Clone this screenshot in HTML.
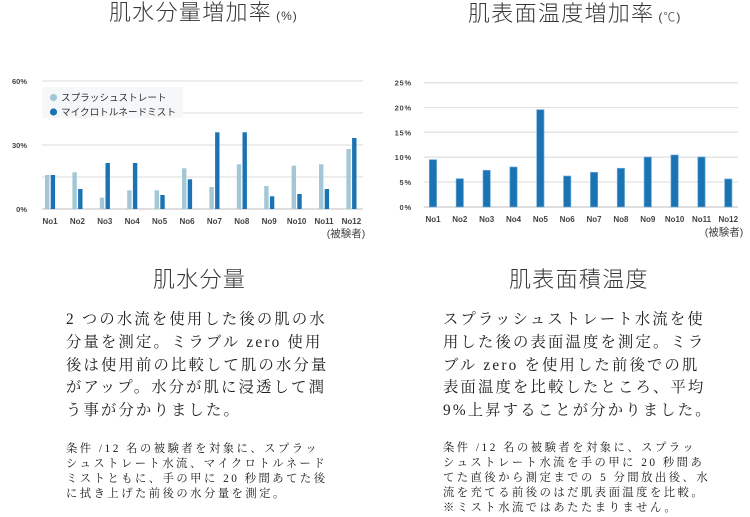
<!DOCTYPE html>
<html lang="ja">
<head>
<meta charset="utf-8">
<style>
  html,body{margin:0;padding:0;background:#fff;}
  body{width:750px;height:517px;position:relative;overflow:hidden;}
  .t{position:absolute;white-space:nowrap;color:#3a3a3a;}
  .title{font-family:"Liberation Sans","Noto Sans CJK JP",sans-serif;font-weight:300;font-size:22px;line-height:26px;letter-spacing:1.3px;color:#3a3636;}
  .title small{font-size:12px;letter-spacing:1px;margin-left:4px;}
  .head{font-family:"Liberation Sans","Noto Sans CJK JP",sans-serif;font-weight:300;font-size:22px;line-height:26px;letter-spacing:1.3px;color:#3a3636;}
  .body{font-family:"Liberation Serif","Noto Serif CJK JP",serif;font-size:15.3px;line-height:22.8px;letter-spacing:2.2px;color:#222;}
  .small{font-family:"Liberation Serif","Noto Serif CJK JP",serif;font-size:11.3px;line-height:14.9px;letter-spacing:2.5px;color:#1a1a1a;}
  svg{position:absolute;left:0;top:0;}
</style>
</head>
<body>
<svg width="750" height="517" viewBox="0 0 750 517" xmlns="http://www.w3.org/2000/svg">
  <!-- LEFT CHART -->
  <g stroke="#e2e2e2" stroke-width="1.3">
    <line x1="42" y1="81" x2="363" y2="81"/>
    <line x1="42" y1="113" x2="363" y2="113"/>
    <line x1="42" y1="145" x2="363" y2="145"/>
    <line x1="42" y1="177" x2="363" y2="177"/>
  </g>
  <line x1="42" y1="209" x2="363" y2="209" stroke="#c9c9c9" stroke-width="1.3"/>
  <g font-family="Liberation Sans, sans-serif" font-weight="bold" font-size="7.5" fill="#444" text-anchor="end">
    <text x="27" y="84">60%</text>
    <text x="27" y="148">30%</text>
    <text x="27" y="212">0%</text>
  </g>
  <!-- legend -->
  <rect x="42" y="87" width="141" height="31" fill="#f6f7f9"/>
  <circle cx="53.5" cy="97.5" r="3.6" fill="#a3c7d6"/>
  <circle cx="53.5" cy="112" r="3.6" fill="#1a74b4"/>
  <g font-family="Liberation Sans, Noto Sans CJK JP, sans-serif" font-size="9.6" fill="#333">
    <text x="61" y="101">スプラッシュストレート</text>
    <text x="61" y="115.5">マイクロトルネードミスト</text>
  </g>
  <!-- left bars -->
  <g fill="#a3c7d6">
    <rect x="45" y="175" width="4.4" height="34"/>
    <rect x="72.4" y="172.3" width="4.4" height="36.7"/>
    <rect x="99.8" y="197.7" width="4.4" height="11.3"/>
    <rect x="127.2" y="190.3" width="4.4" height="18.7"/>
    <rect x="154.6" y="190.3" width="4.4" height="18.7"/>
    <rect x="182" y="168.3" width="4.4" height="40.7"/>
    <rect x="209.4" y="187" width="4.4" height="22"/>
    <rect x="236.8" y="164.3" width="4.4" height="44.7"/>
    <rect x="264.2" y="186" width="4.4" height="23"/>
    <rect x="291.6" y="165.7" width="4.4" height="43.3"/>
    <rect x="319" y="164.3" width="4.4" height="44.7"/>
    <rect x="346.4" y="149" width="4.4" height="60"/>
  </g>
  <g fill="#1a74b4">
    <rect x="50.7" y="175" width="4.4" height="34"/>
    <rect x="78.1" y="189" width="4.4" height="20"/>
    <rect x="105.5" y="163" width="4.4" height="46"/>
    <rect x="132.9" y="163" width="4.4" height="46"/>
    <rect x="160.3" y="195" width="4.4" height="14"/>
    <rect x="187.7" y="179.3" width="4.4" height="29.7"/>
    <rect x="215.1" y="132.3" width="4.4" height="76.7"/>
    <rect x="242.5" y="132.3" width="4.4" height="76.7"/>
    <rect x="269.9" y="196.3" width="4.4" height="12.7"/>
    <rect x="297.3" y="194" width="4.4" height="15"/>
    <rect x="324.7" y="189" width="4.4" height="20"/>
    <rect x="352.1" y="138" width="4.4" height="71"/>
  </g>
  <g font-family="Liberation Sans, sans-serif" font-weight="bold" font-size="8" fill="#444" text-anchor="middle">
    <text x="50" y="224">No1</text>
    <text x="77.4" y="224">No2</text>
    <text x="104.8" y="224">No3</text>
    <text x="132.2" y="224">No4</text>
    <text x="159.6" y="224">No5</text>
    <text x="187" y="224">No6</text>
    <text x="214.4" y="224">No7</text>
    <text x="241.8" y="224">No8</text>
    <text x="269.2" y="224">No9</text>
    <text x="296.6" y="224">No10</text>
    <text x="324" y="224">No11</text>
    <text x="351.4" y="224">No12</text>
  </g>
  <text x="346" y="237" font-family="Liberation Sans, Noto Sans CJK JP, sans-serif" font-size="10.5" fill="#444" text-anchor="middle">(被験者)</text>

  <!-- RIGHT CHART -->
  <g stroke="#e2e2e2" stroke-width="1.3">
    <line x1="424" y1="82.7" x2="738" y2="82.7"/>
    <line x1="424" y1="107.5" x2="738" y2="107.5"/>
    <line x1="424" y1="132.3" x2="738" y2="132.3"/>
    <line x1="424" y1="157.2" x2="738" y2="157.2"/>
    <line x1="424" y1="182" x2="738" y2="182"/>
  </g>
  <line x1="424" y1="207" x2="738" y2="207" stroke="#c9c9c9" stroke-width="1.3"/>
  <g font-family="Liberation Sans, sans-serif" font-weight="bold" font-size="7.5" fill="#444" text-anchor="end" letter-spacing="0.8">
    <text x="412" y="85.7">25%</text>
    <text x="412" y="110.5">20%</text>
    <text x="412" y="135.3">15%</text>
    <text x="412" y="160.2">10%</text>
    <text x="412" y="185">5%</text>
    <text x="412" y="210">0%</text>
  </g>
  <g fill="#1a74b4" stroke="#6ea9d4" stroke-width="0.7">
    <rect x="429.3" y="159.7" width="7.3" height="47.3"/>
    <rect x="456.15" y="178.7" width="7.3" height="28.3"/>
    <rect x="483" y="170.3" width="7.3" height="36.7"/>
    <rect x="509.85" y="167" width="7.3" height="40"/>
    <rect x="536.7" y="109.7" width="7.3" height="97.3"/>
    <rect x="563.55" y="176" width="7.3" height="31"/>
    <rect x="590.4" y="172.3" width="7.3" height="34.7"/>
    <rect x="617.25" y="168.3" width="7.3" height="38.7"/>
    <rect x="644.1" y="157" width="7.3" height="50"/>
    <rect x="670.95" y="155" width="7.3" height="52"/>
    <rect x="697.8" y="157" width="7.3" height="50"/>
    <rect x="724.65" y="179" width="7.3" height="28"/>
  </g>
  <g font-family="Liberation Sans, sans-serif" font-weight="bold" font-size="8" fill="#444" text-anchor="middle">
    <text x="433" y="222">No1</text>
    <text x="459.8" y="222">No2</text>
    <text x="486.7" y="222">No3</text>
    <text x="513.5" y="222">No4</text>
    <text x="540.4" y="222">No5</text>
    <text x="567.2" y="222">No6</text>
    <text x="594" y="222">No7</text>
    <text x="620.9" y="222">No8</text>
    <text x="647.8" y="222">No9</text>
    <text x="674.6" y="222">No10</text>
    <text x="701.5" y="222">No11</text>
    <text x="728.3" y="222">No12</text>
  </g>
  <text x="724" y="235.5" font-family="Liberation Sans, Noto Sans CJK JP, sans-serif" font-size="10.5" fill="#444" text-anchor="middle">(被験者)</text>
</svg>

<div class="t title" style="left:109px;top:0px;">肌水分量増加率<small>(%)</small></div>
<div class="t title" style="left:468px;top:1px;">肌表面温度増加率<small>(℃)</small></div>

<div class="t head" style="left:153px;top:267px;">肌水分量</div>
<div class="t head" style="left:509px;top:267px;">肌表面積温度</div>

<div class="t body" style="left:66px;top:309px;">2 つの水流を使用した後の肌の水<br>分量を測定。ミラブル zero 使用<br>後は使用前の比較して肌の水分量<br>がアップ。水分が肌に浸透して潤<br>う事が分かりました。</div>

<div class="t body" style="left:443px;top:309px;">スプラッシュストレート水流を使<br>用した後の表面温度を測定。ミラ<br>ブル zero を使用した前後での肌<br>表面温度を比較したところ、平均<br>9%上昇することが分かりました。</div>

<div class="t small" style="left:66px;top:442px;">条件 /12 名の被験者を対象に、スプラッ<br>シュストレート水流、マイクロトルネード<br>ミストともに、手の甲に 20 秒間あてた後<br>に拭き上げた前後の水分量を測定。</div>

<div class="t small" style="left:443px;top:441px;">条件 /12 名の被験者を対象に、スプラッ<br>シュストレート水流を手の甲に 20 秒間あ<br>てた直後から測定までの 5 分間放出後、水<br>流を充てる前後のはだ肌表面温度を比較。<br>※ミスト水流ではあたたまりません。</div>
</body>
</html>
